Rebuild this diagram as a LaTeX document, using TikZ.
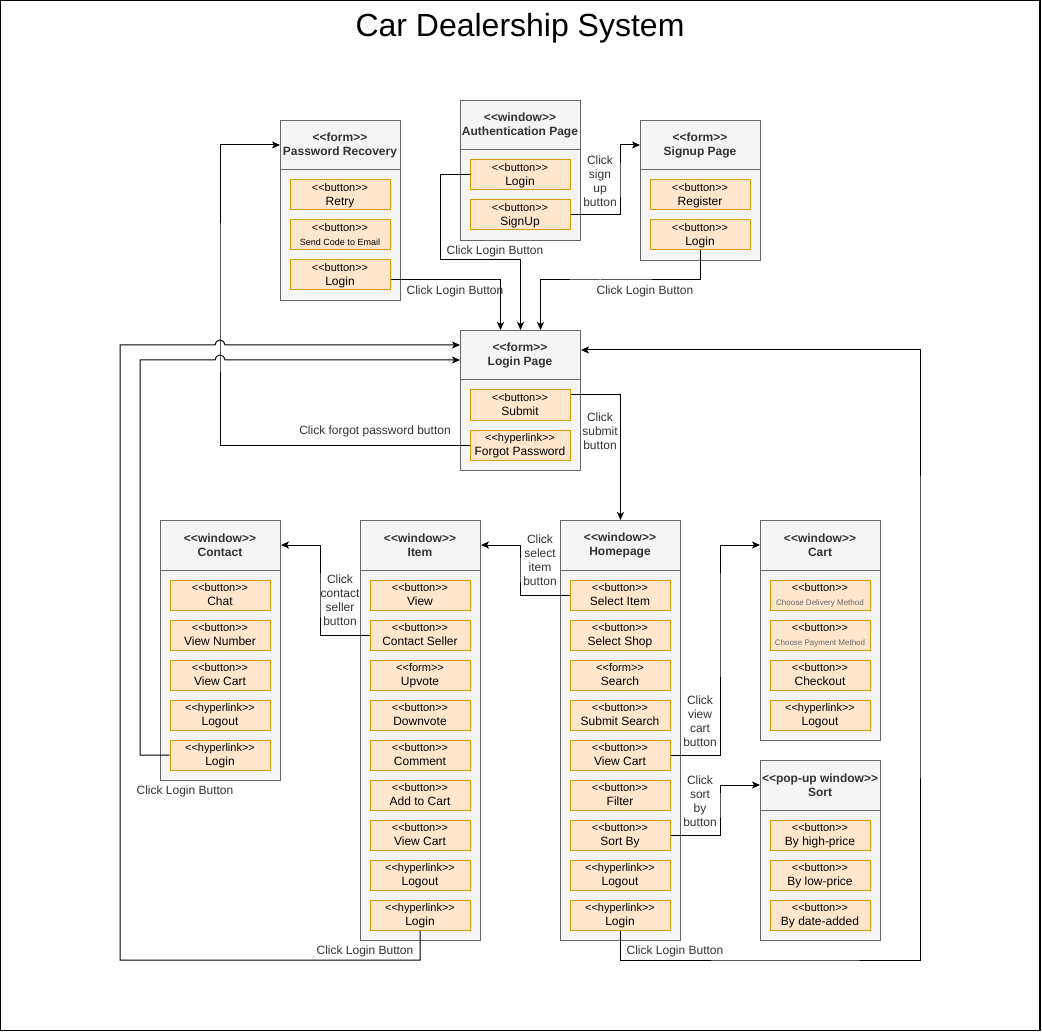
\documentclass[tikz,border=0pt]{standalone}
\usepackage{fontspec}
\setmainfont{Liberation Sans}[Ligatures=TeXOff]
\usetikzlibrary{arrows.meta}
\definecolor{winfill}{HTML}{F5F5F5}
\definecolor{winline}{HTML}{666666}
\definecolor{btnfill}{HTML}{FFE6CC}
\definecolor{btnline}{HTML}{D79B00}
\definecolor{headtext}{HTML}{333333}
\newcommand{\btxt}[2]{{\fontsize{11}{14}\selectfont<<#1>>}\\#2}
\newcommand{\htxt}[2]{<<#1>>\\#2}
\tikzset{
  win/.style={draw=winline, fill=winfill, line width=1pt, minimum width=120pt, inner sep=0pt, anchor=north west},
  head/.style={text=headtext, font=\bfseries\fontsize{12}{14}\selectfont, align=center},
  btn/.style={draw=btnline, fill=btnfill, line width=1pt, minimum width=100pt, minimum height=30pt, inner sep=0pt, align=center, text depth=0pt, font=\fontsize{12}{14}\selectfont},
  flow/.style={draw, line width=1pt, -{Stealth[length=8pt,width=7pt,inset=2pt]}},
  lbl/.style={text=headtext, align=center, font=\fontsize{12}{14}\selectfont, inner sep=0pt},
}
\begin{document}
\begin{tikzpicture}[x=1pt,y=-1pt]
\useasboundingbox (0,0) rectangle (1042,1032);
% frame and title
\draw[line width=1.2pt] (0.6,0.6) rectangle (1040,1030.4);
\node[font=\fontsize{32}{38}\selectfont] (title) at (520,28) {Car Dealership System};
% windows
\node[win, minimum height=180pt] (pw) at (280,120) {};
\node[win, minimum height=140pt] (auth) at (460,100) {};
\node[win, minimum height=140pt] (sign) at (640,120) {};
\node[win, minimum height=140pt] (login) at (460,330) {};
\node[win, minimum height=260pt] (contact) at (160,520) {};
\node[win, minimum height=420pt] (item) at (360,520) {};
\node[win, minimum height=420pt] (home) at (560,520) {};
\node[win, minimum height=220pt] (cart) at (760,520) {};
\node[win, minimum height=180pt] (sort) at (760,760) {};
\foreach \w in {pw,auth,sign,login,contact,item,home,cart,sort}
  \draw[winline, line width=1pt] ([yshift=-50pt]\w.north west) -- ([yshift=-50pt]\w.north east);
% headers
\node[head] (pwHead) at (340,145) {\htxt{form}{Password Recovery}};
\node[head] (authHead) at (520,125) {\htxt{window}{Authentication Page}};
\node[head] (signHead) at (700,145) {\htxt{form}{Signup Page}};
\node[head] (loginHead) at (520,355) {\htxt{form}{Login Page}};
\node[head] (contactHead) at (220,545) {\htxt{window}{Contact}};
\node[head] (itemHead) at (420,545) {\htxt{window}{Item}};
\node[head] (homeHead) at (620,545) {\htxt{window}{Homepage}};
\node[head] (cartHead) at (820,545) {\htxt{window}{Cart}};
\node[head] (sortHead) at (820,785) {\htxt{pop-up window}{Sort}};
% buttons
\node[btn] (pwRetry) at (340,195) {\btxt{button}{Retry}};
\node[btn] (pwSend) at (340,235) {\btxt{button}{{\fontsize{9}{14}\selectfont Send Code to Email}}};
\node[btn] (pwLogin) at (340,275) {\btxt{button}{Login}};
\node[btn] (authLogin) at (520,175) {\btxt{button}{Login}};
\node[btn] (authSign) at (520,215) {\btxt{button}{SignUp}};
\node[btn] (signReg) at (700,195) {\btxt{button}{Register}};
\node[btn] (signLogin) at (700,235) {\btxt{button}{Login}};
\node[btn] (lpSubmit) at (520,405) {\btxt{button}{Submit}};
\node[btn] (lpForgot) at (520,445) {\btxt{hyperlink}{Forgot Password}};
\foreach \n/\s/\t [count=\i] in {cChat/button/Chat, cNum/button/View Number, cCart/button/View Cart, cOut/hyperlink/Logout, cLogin/hyperlink/Login}
  \node[btn] (\n) at (220,{555+40*\i}) {\btxt{\s}{\t}};
\foreach \n/\s/\t [count=\i] in {iView/button/View, iSeller/button/Contact Seller, iUp/form/Upvote, iDown/button/Downvote, iCom/button/Comment, iAdd/button/Add to Cart, iCart/button/View Cart, iOut/hyperlink/Logout, iLogin/hyperlink/Login}
  \node[btn] (\n) at (420,{555+40*\i}) {\btxt{\s}{\t}};
\foreach \n/\s/\t [count=\i] in {hSelect/button/Select Item, hShop/button/Select Shop, hSearch/form/Search, hSubmit/button/Submit Search, hCart/button/View Cart, hFilter/button/Filter, hSort/button/Sort By, hOut/hyperlink/Logout, hLogin/hyperlink/Login}
  \node[btn] (\n) at (620,{555+40*\i}) {\btxt{\s}{\t}};
\node[btn] (ctDel) at (820,595) {\btxt{button}{{\fontsize{8}{14}\selectfont\color{winline}Choose Delivery Method}}};
\node[btn] (ctPay) at (820,635) {\btxt{button}{{\fontsize{8}{14}\selectfont\color{winline}Choose Payment Method}}};
\node[btn] (ctCheck) at (820,675) {\btxt{button}{Checkout}};
\node[btn] (ctOut) at (820,715) {\btxt{hyperlink}{Logout}};
\foreach \n/\s/\t [count=\i] in {sHigh/button/By high-price, sLow/button/By low-price, sDate/button/By date-added}
  \node[btn] (\n) at (820,{795+40*\i}) {\btxt{\s}{\t}};
% connectors
\draw[flow] (authLogin.west) -| (440,260) -| (login.north);
\draw[flow] ([yshift=-5pt]pwLogin.east) -| ([xshift=-20pt]login.north);
\draw[flow] (signLogin.south) |- (600,280) -| ([xshift=20pt]login.north);
\draw[flow] (authSign.east) -| (620,180) |- ([yshift=-25pt]sign.north west);
\draw[flow] (lpForgot.west) -| (220,300) |- ([yshift=-25pt]pw.north west);
\draw[flow] ([yshift=10pt]lpSubmit.east) -| (home.north);
\draw[flow] (hSelect.west) -| (520,570) |- ([yshift=-25pt]item.north east);
\draw[flow] (iSeller.west) -| (320,600) |- ([yshift=-25pt]contact.north east);
\draw[flow] (hCart.east) -| (720,600) |- ([yshift=-25pt]cart.north west);
\draw[flow] (hSort.east) -| (720,800) |- ([yshift=-25pt]sort.north west);
\draw[flow] (iLogin.south) |- (300,960) -| (120,700) |- (215,345)
  arc[start angle=180, end angle=0, radius=5pt] -- ([yshift=-15pt]login.north west);
\draw[flow] (cLogin.west) -| (140,500) |- (215,360)
  arc[start angle=180, end angle=0, radius=5pt] -- ([yshift=-30pt]login.north west);
\draw[flow] (hLogin.south) |- (800,960) -| (920,600) |- ([yshift=-20pt]login.north east);
% labels
\node[lbl] (tAuth) at (495,251) {Click Login Button};
\node[lbl] (tPw) at (455,291) {Click Login Button};
\node[lbl] (tSign) at (645,291) {Click Login Button};
\node[lbl] (tSignup) at (600,181) {Click\\sign\\up\\button};
\node[lbl] (tForgot) at (375,431) {Click forgot password button};
\node[lbl] (tSubmit) at (600,431) {Click\\submit\\button};
\node[lbl] (tSelect) at (540,560) {Click\\select\\item\\button};
\node[lbl] (tSeller) at (340,600) {Click\\contact\\seller\\button};
\node[lbl] (tCart) at (700,721) {Click\\view\\cart\\button};
\node[lbl] (tSort) at (700,801) {Click\\sort\\by\\button};
\node[lbl] (tContact) at (185,791) {Click Login Button};
\node[lbl] (tItem) at (365,951) {Click Login Button};
\node[lbl] (tHome) at (675,951) {Click Login Button};
\end{tikzpicture}
\end{document}
